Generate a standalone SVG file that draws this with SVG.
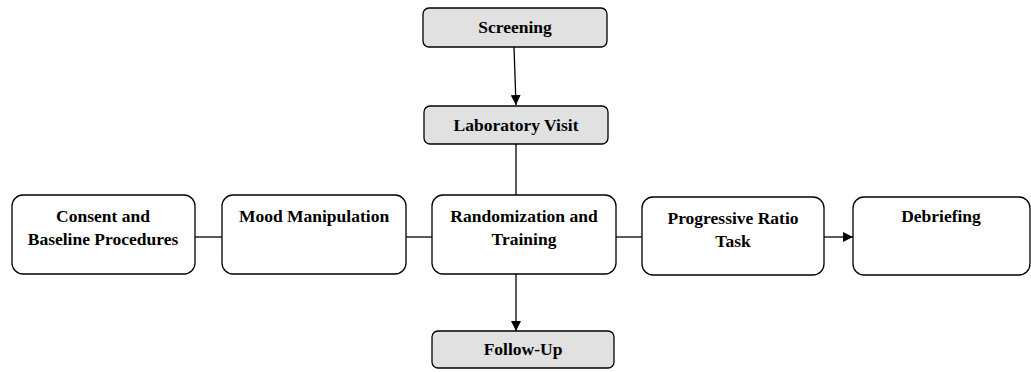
<svg xmlns="http://www.w3.org/2000/svg" width="1031" height="372" viewBox="0 0 1031 372">
<defs>
<marker id="ah" viewBox="0 0 10 10" refX="10" refY="5" markerWidth="10" markerHeight="10" markerUnits="userSpaceOnUse" orient="auto">
<path d="M0,0 L10,5 L0,10 Z" fill="#000"/>
</marker>
<style>
.g rect{fill:#e1e1e1;stroke:#000;stroke-width:1.3}
.w rect{fill:#fff;stroke:#000;stroke-width:1.3}
text{font-family:"Liberation Serif","Times New Roman",serif;font-weight:bold;font-size:17.5px;text-anchor:middle;fill:#000}
.c line{stroke:#000;stroke-width:1.3}
</style>
</defs>
<rect width="1031" height="372" fill="#fff"/>
<g class="c">
<line x1="514" y1="47" x2="516" y2="105" marker-end="url(#ah)"/>
<line x1="516" y1="144" x2="516" y2="195"/>
<line x1="195" y1="237" x2="222" y2="237"/>
<line x1="406" y1="237" x2="432" y2="237"/>
<line x1="616" y1="237" x2="642" y2="237"/>
<line x1="824" y1="237" x2="853" y2="237" marker-end="url(#ah)"/>
<line x1="516" y1="274" x2="516" y2="331" marker-end="url(#ah)"/>
</g>
<g id="screening" class="g"><rect x="423" y="8" width="184" height="39" rx="6"/><text x="515" y="33">Screening</text></g>
<g id="lab" class="g"><rect x="424" y="106" width="184" height="38" rx="6"/><text x="516" y="131">Laboratory Visit</text></g>
<g id="consent" class="w"><rect x="12" y="195" width="183" height="79" rx="11"/><text x="103" y="222">Consent and</text><text x="103" y="245">Baseline Procedures</text></g>
<g id="mood" class="w"><rect x="222" y="195" width="184" height="79" rx="11"/><text x="314" y="222">Mood Manipulation</text></g>
<g id="random" class="w"><rect x="432" y="195" width="184" height="79" rx="11"/><text x="524" y="222">Randomization and</text><text x="524" y="245">Training</text></g>
<g id="prog" class="w"><rect x="642" y="197" width="182" height="78" rx="11"/><text x="733" y="224">Progressive Ratio</text><text x="733" y="247">Task</text></g>
<g id="debrief" class="w"><rect x="853" y="197" width="177" height="78" rx="11"/><text x="941" y="222">Debriefing</text></g>
<g id="followup" class="g"><rect x="432" y="331" width="182" height="37" rx="6"/><text x="523" y="355">Follow-Up</text></g>
</svg>
